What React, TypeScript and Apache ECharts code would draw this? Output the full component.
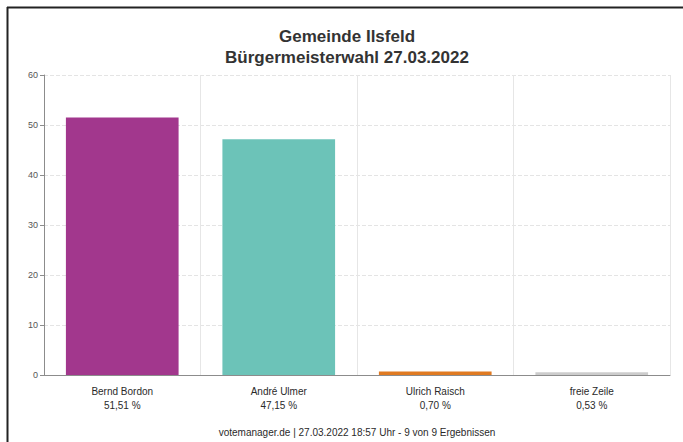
import React, { useEffect, useRef } from "react";
import * as echarts from "echarts";

const titleLines = ["Gemeinde Ilsfeld", "Bürgermeisterwahl 27.03.2022"];
const candidates = ["Bernd Bordon", "André Ulmer", "Ulrich Raisch", "freie Zeile"];
const percentLabels = ["51,51 %", "47,15 %", "0,70 %", "0,53 %"];
const values = [51.51, 47.15, 0.7, 0.53];
const barColors = ["#a2378d", "#6cc3b8", "#e07a22", "#cccccc"];
const footer = "votemanager.de | 27.03.2022 18:57 Uhr - 9 von 9 Ergebnissen";

export default function App() {
  const ref = useRef<HTMLDivElement>(null);
  useEffect(() => {
    if (!ref.current) return;
    const chart = echarts.init(ref.current, null, { renderer: "svg" });
    const font = "Liberation Sans, Arial, sans-serif";
    chart.setOption({
      animation: false,
      backgroundColor: "#ffffff",
      textStyle: { fontFamily: font },
      title: {
        text: titleLines.join("\n"),
        left: 342,
        textAlign: "center",
        top: 21,
        textStyle: { fontSize: 17, fontWeight: "bold", color: "#333333", lineHeight: 21, fontFamily: font },
      },
      grid: { left: 44, right: 13, top: 75, bottom: 67, containLabel: false },
      xAxis: {
        type: "category",
        data: candidates,
        axisLine: { show: true, lineStyle: { color: "#8c8c8c", width: 1 } },
        axisTick: { show: false },
        splitLine: { show: true, lineStyle: { color: "#e6e6e6", width: 1 } },
        axisLabel: {
          margin: 9,
          interval: 0,
          formatter: (v: string, i: number) => `${v}\n${percentLabels[i]}`,
          fontSize: 10,
          lineHeight: 14,
          color: "#2a2a2a",
          fontFamily: font,
        },
      },
      yAxis: {
        type: "value",
        min: 0,
        max: 60,
        interval: 10,
        axisLine: { show: true, lineStyle: { color: "#8c8c8c", width: 1 } },
        axisTick: { show: true, length: 4, lineStyle: { color: "#8c8c8c" } },
        splitLine: { show: true, lineStyle: { color: "#e4e4e4", type: "dashed", width: 1 } },
        axisLabel: { fontSize: 9, color: "#555555", margin: 6, fontFamily: font },
      },
      series: [
        {
          type: "bar",
          barWidth: "72%",
          data: values.map((v, i) => ({ value: v, itemStyle: { color: barColors[i] } })),
        },
      ],
      graphic: [
        { type: "line", shape: { x1: 7.5, y1: 7, x2: 7.5, y2: 442 }, style: { stroke: "#222222", lineWidth: 2 } },
        { type: "line", shape: { x1: 7, y1: 7.5, x2: 683, y2: 7.5 }, style: { stroke: "#222222", lineWidth: 2 } },
        {
          type: "text",
          x: 357,
          y: 432,
          style: {
            text: footer,
            fontSize: 10,
            fill: "#2a2a2a",
            align: "center",
            verticalAlign: "middle",
            fontFamily: font,
          },
        },
      ],
    });
    return () => chart.dispose();
  }, []);
  return (
    <div
      ref={ref}
      style={{ position: "fixed", left: 0, top: 0, width: 683, height: 442 }}
    />
  );
}
